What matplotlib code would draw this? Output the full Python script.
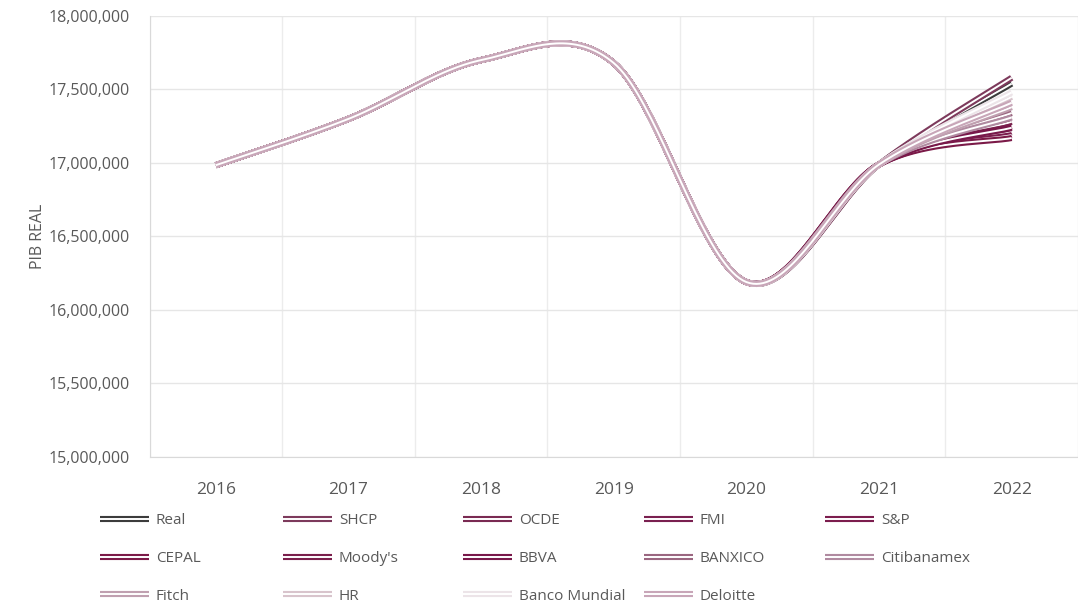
import numpy as np
import matplotlib
matplotlib.use("Agg")
import matplotlib.pyplot as plt
import matplotlib.patheffects as pe
from matplotlib.ticker import FuncFormatter

plt.rcParams['font.family'] = ['Open Sans', 'DejaVu Sans']

years = ['2016', '2017', '2018', '2019', '2020', '2021', '2022']

# common history 2016-2021 (PIB real), forecasts for 2022
history = [16985000, 17300000, 17700000, 17680000, 16190000, 16990000]

series = ['Real', 'SHCP', 'OCDE', 'FMI', 'S&P', 'CEPAL', 'Moody\'s', 'BBVA',
          'BANXICO', 'Citibanamex', 'Fitch', 'HR', 'Banco Mundial', 'Deloitte']
val_2022 = [17540000, 17580000, 17280000, 17210000, 17190000, 17170000, 17250000,
            17240000, 17340000, 17310000, 17380000, 17450000, 17480000, 17410000]
colors = ['#3c3c3c', '#7d3a5c', '#7a2a52', '#7a2050', '#7c1d4e', '#7b1a48', '#7a1f4c',
          '#78184a', '#9a6680', '#b08aa0', '#c0a0b0', '#d8c4cc', '#ece4e8', '#c8a6b8']


def excel_smooth(x, y, n=40):
    # Excel-like smoothed line: Catmull-Rom converted to cubic Bezier
    x = np.asarray(x, float)
    y = np.asarray(y, float)
    px = np.r_[x[0], x, x[-1]]
    py = np.r_[y[0], y, y[-1]]
    xs, ys = [], []
    t = np.linspace(0, 1, n)
    for i in range(1, len(px) - 2):
        p0 = np.array([px[i], py[i]])
        p3 = np.array([px[i + 1], py[i + 1]])
        c1 = p0 + (np.array([px[i + 1], py[i + 1]]) - np.array([px[i - 1], py[i - 1]])) / 6
        c2 = p3 - (np.array([px[i + 2], py[i + 2]]) - np.array([px[i], py[i]])) / 6
        b = ((1 - t) ** 3)[:, None] * p0 + (3 * (1 - t) ** 2 * t)[:, None] * c1 \
            + (3 * (1 - t) * t ** 2)[:, None] * c2 + (t ** 3)[:, None] * p3
        xs.append(b[:, 0])
        ys.append(b[:, 1])
    return np.concatenate(xs), np.concatenate(ys)


fig = plt.figure(figsize=(10.78, 6.07), dpi=100)
ax = fig.add_axes([149.5 / 1078, 1 - 457 / 607, 1 - 149.5 / 1078, 441 / 607])

xpos = np.arange(len(years))
handles = []
for name, v, c in zip(series, val_2022, colors):
    sx, sy = excel_smooth(xpos, history + [v])
    ln, = ax.plot(sx, sy, color='white', lw=1.4, solid_capstyle='butt', label=name,
                  path_effects=[pe.Stroke(linewidth=4.4, foreground=c), pe.Normal()])
    handles.append(ln)

ax.set_xlim(-0.5, 6.5)
ax.set_ylim(15000000, 18000000)
ax.set_yticks(np.arange(15000000, 18000001, 500000))
ax.yaxis.set_major_formatter(FuncFormatter(lambda v, p: f'{int(v):,}'))
ax.set_xticks(xpos)
ax.set_xticklabels(years)
ax.set_xticks(np.arange(-0.5, 6.6, 1), minor=True)

ax.grid(axis='y', which='major', color='#e6e6e6', lw=1)
ax.grid(axis='x', which='minor', color='#ececec', lw=1)
ax.tick_params(axis='both', which='both', length=0, colors='#595959')
ax.tick_params(axis='y', labelsize=11.5, pad=14)
ax.tick_params(axis='x', labelsize=12.5, pad=18)
for s in ['top', 'right']:
    ax.spines[s].set_visible(False)
for s in ['left', 'bottom']:
    ax.spines[s].set_color('#d9d9d9')
ax.set_ylabel('PIB REAL', color='#595959', fontsize=11.5, labelpad=2)

# legend: 5 columns filled row by row, like Excel
col_x = [100, 283, 463, 644, 825]
for j, cx in enumerate(col_x):
    hs = handles[j::5]
    fig.legend(handles=hs, labels=[h.get_label() for h in hs], loc='upper left',
               bbox_to_anchor=(cx / 1078, 1 - 513 / 607), frameon=False,
               fontsize=11, handlelength=3.2, handletextpad=0.45, labelspacing=1.5,
               borderpad=0, borderaxespad=0, labelcolor='#595959')

fig.savefig('out.png', dpi=100)
